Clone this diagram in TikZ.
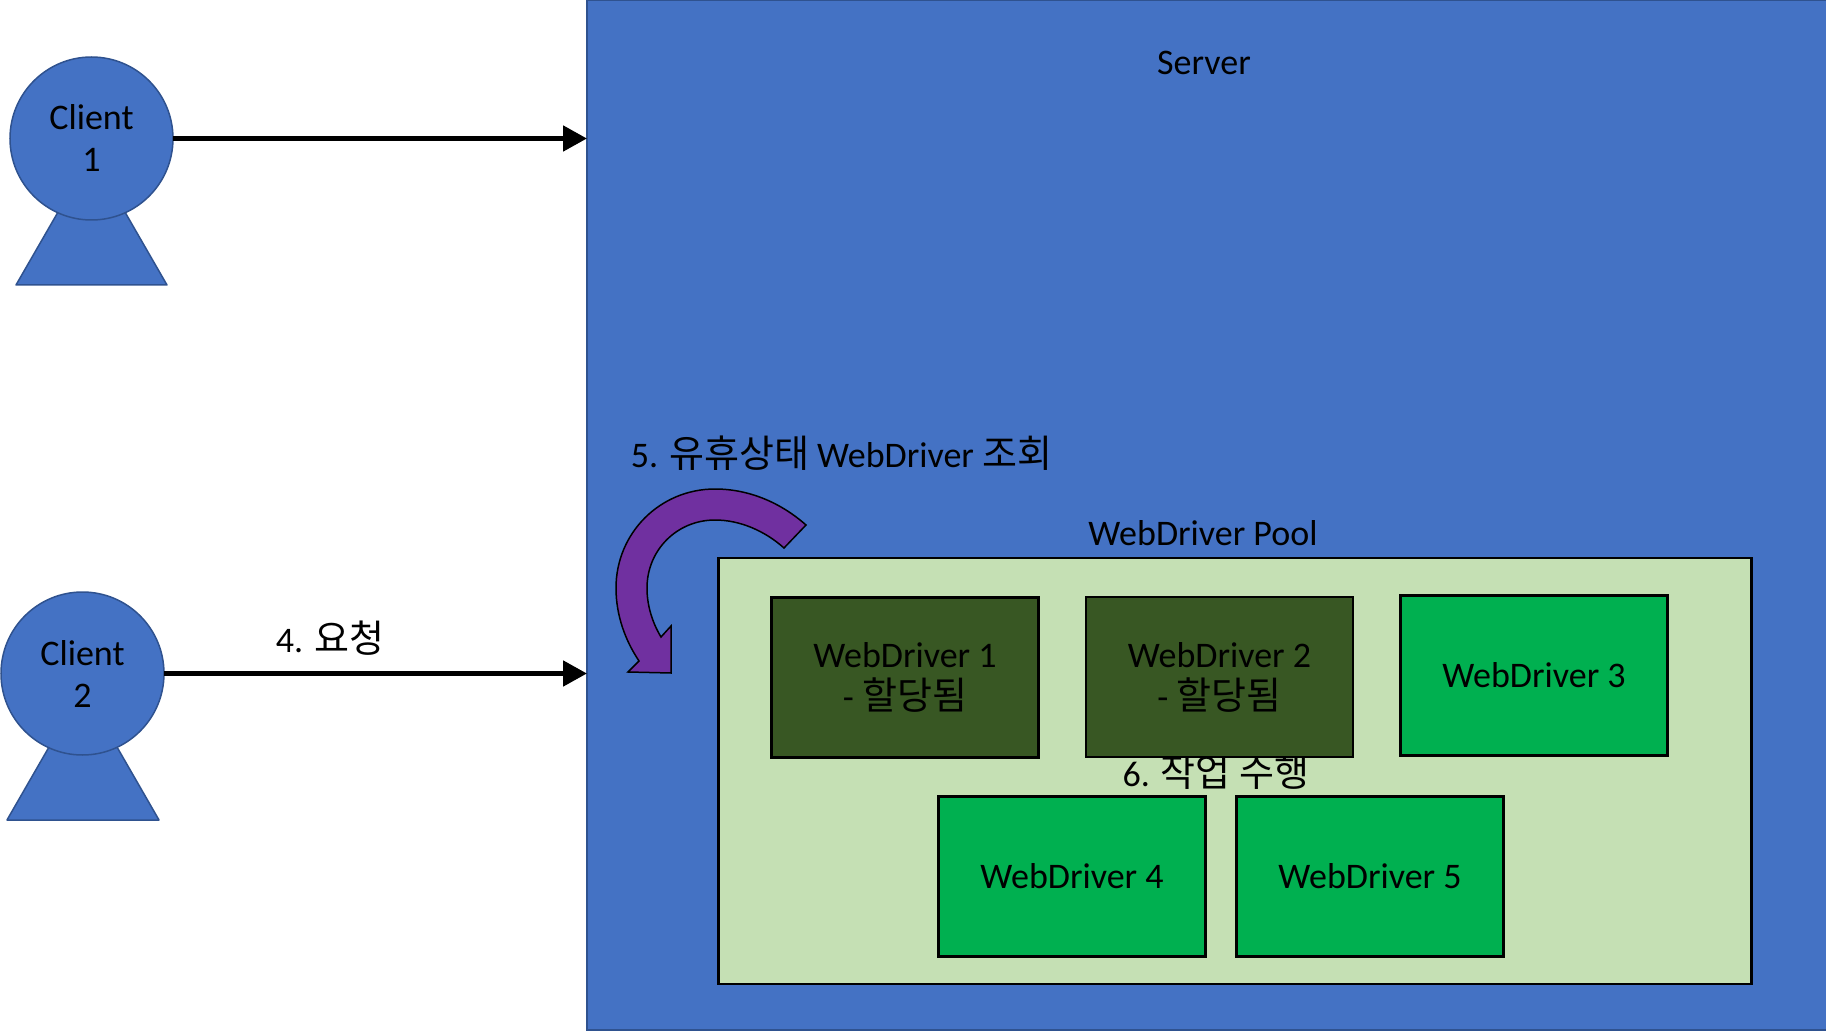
\documentclass[tikz,border=0pt]{standalone}
\usepackage{fontspec}
\setmainfont{Carlito}
\newfontfamily\cjk{Noto Sans CJK KR}
\usetikzlibrary{arrows.meta}
\definecolor{srvblue}{HTML}{4472C4}
\definecolor{srvedge}{HTML}{2F528F}
\definecolor{poolgreen}{HTML}{C5E0B4}
\definecolor{busygreen}{HTML}{385723}
\definecolor{freegreen}{HTML}{00B050}
\definecolor{curvepurple}{HTML}{7030A0}
\newcommand{\kr}[1]{{\cjk\fontsize{38}{42}\selectfont #1}}
\newcommand{\lowtext}[1]{\raisebox{-1.5pt}{#1}}
\tikzset{
  x=1pt,y=-1pt,
  every node/.style={inner sep=0pt,outer sep=0pt,align=center,text=black,font=\fontsize{36}{42}\selectfont},
  serverbox/.style={rectangle,draw=srvedge,line width=1.5pt,fill=srvblue,minimum width=1240pt,minimum height=1030pt},
  poolbox/.style={rectangle,draw=black,line width=2.2pt,fill=poolgreen,minimum width=1033pt,minimum height=426pt},
  busybox/.style={rectangle,draw=black,line width=2.2pt,fill=busygreen,minimum width=267pt,minimum height=160pt},
  freebox/.style={rectangle,draw=black,line width=2.2pt,fill=freegreen,minimum width=267pt,minimum height=160pt},
  clienthead/.style={circle,draw=srvedge,line width=1.5pt,fill=srvblue,minimum size=163pt},
  clientbase/.style={draw=srvedge,line width=1.5pt,fill=srvblue,line join=round},
  request/.style={draw=black,line width=5pt,-{Triangle[length=24pt,width=25pt]}},
  curvearrow/.style={draw=black,line width=1.5pt,fill=curvepurple,line join=miter},
  caption/.style={anchor=center},
}
\begin{document}
\begin{tikzpicture}
\useasboundingbox (0,0) rectangle (1826,1032);
% server
\node[serverbox] (server) at (1207,515) {};
\node[caption] (servertitle) at (1204,63) {Server};
% clients
\path[clientbase] (16,285) -- (91.5,154) -- (167,285) -- cycle;
\node[clienthead] (client1) at (91.5,138.5) {};
\node (client1text) at (91.5,138.5) {Client\\1};
\path[clientbase] (7,820) -- (83,688) -- (159,820) -- cycle;
\node[clienthead] (client2) at (82.5,673.5) {};
\node (client2text) at (82.5,673.5) {Client\\2};
% connectors
\draw[request] (client1.east) -- (client1.east -| server.west);
\draw[request] (client2.east) -- (client2.east -| server.west);
\node[caption] (reqlabel) at (330,638.5) {4. \kr{요청}};
% pool
\node[caption] (pooltitle) at (1203,533) {WebDriver Pool};
\node[poolbox] (pool) at (1235,771) {};
\node[caption] (worklabel) at (1216,772.5) {6. \kr{작업 수행}};
\node[busybox] (wd1) at (905,677.5) {\lowtext{WebDriver 1}\\\lowtext{- \kr{할당됨}}};
\node[busybox] (wd2) at (1219.5,677) {\lowtext{WebDriver 2}\\\lowtext{- \kr{할당됨}}};
\node[freebox] (wd3) at (1534,675.5) {\lowtext{WebDriver 3}};
\node[freebox] (wd4) at (1072,876.5) {\lowtext{WebDriver 4}};
\node[freebox] (wd5) at (1370,876.5) {\lowtext{WebDriver 5}};
% lookup label and curved arrow
\node[caption] (lookup) at (841.5,453) {5. \kr{유휴상태} WebDriver \kr{조회}};
\path[curvearrow] (806,525)
  .. controls (780,502) and (748,489) .. (715,489)
  .. controls (660,489) and (616,533) .. (616,588)
  .. controls (616,615) and (625,640) .. (639,661)
  -- (628,672) -- (671,673) -- (671,626) -- (661,637)
  .. controls (652,622) and (647,605) .. (647,588)
  .. controls (647,550) and (677,520) .. (715,520)
  .. controls (740,520) and (765,531) .. (784,548)
  -- cycle;
\end{tikzpicture}
\end{document}
